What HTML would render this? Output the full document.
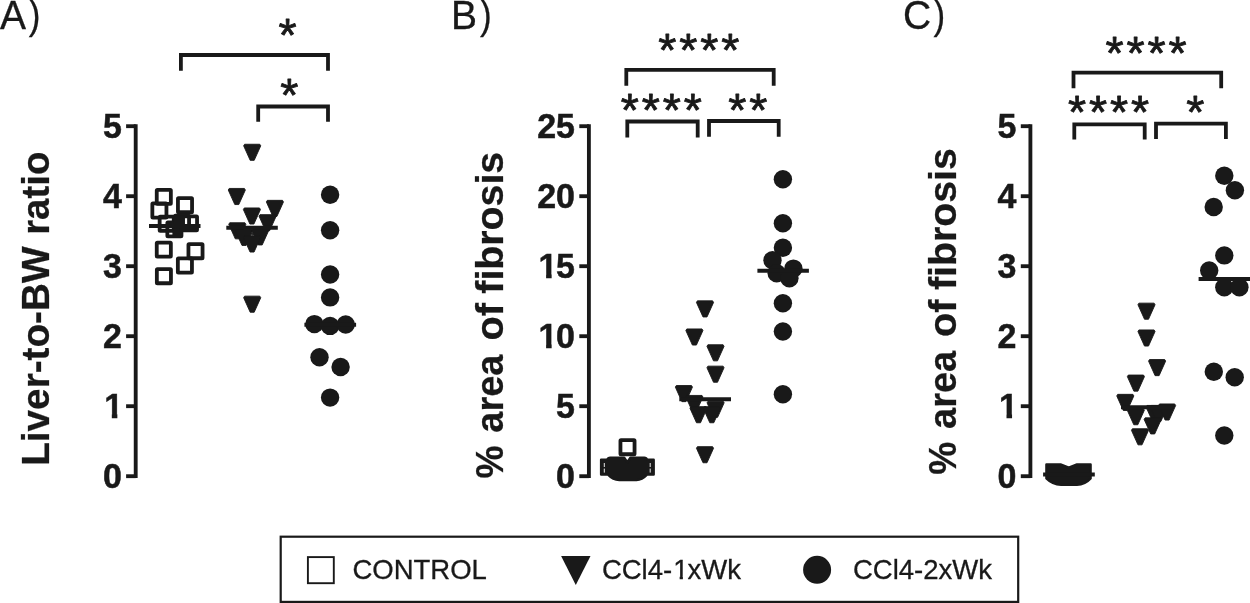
<!DOCTYPE html>
<html lang="en">
<head>
<meta charset="utf-8">
<title>Figure</title>
<style>
html,body{margin:0;padding:0;background:#fff;}
body{width:1250px;height:603px;overflow:hidden;}
svg{display:block;}
text{font-family:"Liberation Sans",sans-serif;fill:#191919;}
.pl{font-size:39px;stroke:#191919;stroke-width:0.3px;}
.tk{font-size:34px;font-weight:bold;stroke:#191919;stroke-width:0.5px;}
.yl{font-size:38.5px;font-weight:bold;stroke:#191919;stroke-width:0.25px;}
.st{font-size:46.5px;letter-spacing:2.9px;stroke:#191919;stroke-width:0.8px;stroke-linejoin:round;}
.lg{font-size:27.5px;stroke:#191919;stroke-width:0.3px;}
</style>
</head>
<body>
<svg width="1250" height="603" viewBox="0 0 1250 603">
<rect x="0" y="0" width="1250" height="603" fill="#ffffff"/>
<text transform="translate(0.00,28.9) scale(1,1.04)" class="pl">A<tspan x="28.80" textLength="11.69" lengthAdjust="spacingAndGlyphs">)</tspan></text>
<text transform="translate(451.00,28.9) scale(1,1.04)" class="pl">B<tspan x="29.00" textLength="11.69" lengthAdjust="spacingAndGlyphs">)</tspan></text>
<text transform="translate(903.00,28.9) scale(1,1.04)" class="pl">C<tspan x="30.40" textLength="11.69" lengthAdjust="spacingAndGlyphs">)</tspan></text>
<line x1="135.7" y1="124.28" x2="135.7" y2="478.12" stroke="#191919" stroke-width="3.85"/>
<line x1="126.10" y1="476.20" x2="135.70" y2="476.20" stroke="#191919" stroke-width="3.85"/>
<text transform="translate(121.80,488.10) scale(1,1.025)" text-anchor="end" class="tk">0</text>
<line x1="126.10" y1="406.20" x2="135.70" y2="406.20" stroke="#191919" stroke-width="3.85"/>
<text transform="translate(121.80,418.10) scale(1,1.025)" class="tk"><tspan x="-17.51">1</tspan></text>
<rect x="105.20" y="413.80" width="6.6" height="5.3" fill="#fff"/>
<rect x="117.35" y="413.80" width="6.4" height="5.3" fill="#fff"/>
<line x1="126.10" y1="336.20" x2="135.70" y2="336.20" stroke="#191919" stroke-width="3.85"/>
<text transform="translate(121.80,348.10) scale(1,1.025)" text-anchor="end" class="tk">2</text>
<line x1="126.10" y1="266.20" x2="135.70" y2="266.20" stroke="#191919" stroke-width="3.85"/>
<text transform="translate(121.80,278.10) scale(1,1.025)" text-anchor="end" class="tk">3</text>
<line x1="126.10" y1="196.20" x2="135.70" y2="196.20" stroke="#191919" stroke-width="3.85"/>
<text transform="translate(121.80,208.10) scale(1,1.025)" text-anchor="end" class="tk">4</text>
<line x1="126.10" y1="126.20" x2="135.70" y2="126.20" stroke="#191919" stroke-width="3.85"/>
<text transform="translate(121.80,138.10) scale(1,1.025)" text-anchor="end" class="tk">5</text>
<text transform="translate(48.70,467.90) rotate(-90) scale(1,1.03)" class="yl"><tspan x="2.11" textLength="219.23" lengthAdjust="spacingAndGlyphs">Liver-to-BW</tspan><tspan> </tspan><tspan x="233.03" textLength="83.29" lengthAdjust="spacingAndGlyphs">ratio</tspan></text>
<polyline points="180.90,70.70 180.90,55.00 328.00,55.00 328.00,70.70" fill="none" stroke="#191919" stroke-width="3.8" stroke-linejoin="miter"/>
<polyline points="258.20,121.80 258.20,106.50 328.00,106.50 328.00,121.80" fill="none" stroke="#191919" stroke-width="3.8" stroke-linejoin="miter"/>
<text x="289.05" y="51.10" text-anchor="middle" class="st">*</text>
<text x="290.75" y="111.00" text-anchor="middle" class="st">*</text>
<rect x="156.75" y="189.85" width="14.10" height="14.10" rx="0.6" fill="none" stroke="#191919" stroke-width="3.8" stroke-linejoin="round"/>
<rect x="152.35" y="203.45" width="14.10" height="14.10" rx="0.6" fill="none" stroke="#191919" stroke-width="3.8" stroke-linejoin="round"/>
<rect x="177.95" y="198.15" width="14.10" height="14.10" rx="0.6" fill="none" stroke="#191919" stroke-width="3.8" stroke-linejoin="round"/>
<rect x="182.95" y="216.35" width="14.10" height="14.10" rx="0.6" fill="none" stroke="#191919" stroke-width="3.8" stroke-linejoin="round"/>
<rect x="159.65" y="216.65" width="14.10" height="14.10" rx="0.6" fill="none" stroke="#191919" stroke-width="3.8" stroke-linejoin="round"/>
<rect x="167.35" y="222.35" width="14.10" height="14.10" rx="0.6" fill="none" stroke="#191919" stroke-width="3.8" stroke-linejoin="round"/>
<rect x="174.95" y="215.75" width="14.10" height="14.10" rx="0.6" fill="none" stroke="#191919" stroke-width="3.8" stroke-linejoin="round"/>
<rect x="156.75" y="242.55" width="14.10" height="14.10" rx="0.6" fill="none" stroke="#191919" stroke-width="3.8" stroke-linejoin="round"/>
<rect x="188.45" y="244.15" width="14.10" height="14.10" rx="0.6" fill="none" stroke="#191919" stroke-width="3.8" stroke-linejoin="round"/>
<rect x="177.85" y="258.45" width="14.10" height="14.10" rx="0.6" fill="none" stroke="#191919" stroke-width="3.8" stroke-linejoin="round"/>
<rect x="156.85" y="269.15" width="14.10" height="14.10" rx="0.6" fill="none" stroke="#191919" stroke-width="3.8" stroke-linejoin="round"/>
<polygon points="173.5,218.5 176.5,215.2 184.8,215.2 184.8,224.2 173.5,224.2" fill="#191919"/>
<rect x="179.4" y="227" width="18" height="4.6" fill="#191919"/>
<rect x="172.4" y="230.8" width="9" height="4.4" fill="#191919"/>
<line x1="149.00" y1="226.00" x2="200.50" y2="226.00" stroke="#191919" stroke-width="3.9"/>
<polygon points="244.60,144.25 259.80,144.25 260.75,145.80 254.20,160.35 250.20,160.35 243.65,145.80" fill="#191919" stroke="#191919" stroke-width="0.9" stroke-linejoin="round"/>
<polygon points="229.20,188.45 244.40,188.45 245.35,190.00 238.80,204.55 234.80,204.55 228.25,190.00" fill="#191919" stroke="#191919" stroke-width="0.9" stroke-linejoin="round"/>
<polygon points="267.30,200.35 282.50,200.35 283.45,201.90 276.90,216.45 272.90,216.45 266.35,201.90" fill="#191919" stroke="#191919" stroke-width="0.9" stroke-linejoin="round"/>
<polygon points="244.30,207.95 259.50,207.95 260.45,209.50 253.90,224.05 249.90,224.05 243.35,209.50" fill="#191919" stroke="#191919" stroke-width="0.9" stroke-linejoin="round"/>
<polygon points="260.00,214.65 275.20,214.65 276.15,216.20 269.60,230.75 265.60,230.75 259.05,216.20" fill="#191919" stroke="#191919" stroke-width="0.9" stroke-linejoin="round"/>
<polygon points="229.70,222.75 244.90,222.75 245.85,224.30 239.30,238.85 235.30,238.85 228.75,224.30" fill="#191919" stroke="#191919" stroke-width="0.9" stroke-linejoin="round"/>
<polygon points="236.40,229.35 251.60,229.35 252.55,230.90 246.00,245.45 242.00,245.45 235.45,230.90" fill="#191919" stroke="#191919" stroke-width="0.9" stroke-linejoin="round"/>
<polygon points="252.60,228.85 267.80,228.85 268.75,230.40 262.20,244.95 258.20,244.95 251.65,230.40" fill="#191919" stroke="#191919" stroke-width="0.9" stroke-linejoin="round"/>
<polygon points="244.45,235.95 259.65,235.95 260.60,237.50 254.05,252.05 250.05,252.05 243.50,237.50" fill="#191919" stroke="#191919" stroke-width="0.9" stroke-linejoin="round"/>
<polygon points="244.60,296.15 259.80,296.15 260.75,297.70 254.20,312.25 250.20,312.25 243.65,297.70" fill="#191919" stroke="#191919" stroke-width="0.9" stroke-linejoin="round"/>
<line x1="226.30" y1="227.80" x2="277.80" y2="227.80" stroke="#191919" stroke-width="3.9"/>
<rect x="251.2" y="233.0" width="2.2" height="2.8" fill="#191919" opacity="0.9"/>
<circle cx="330.10" cy="194.80" r="9.2" fill="#191919"/>
<circle cx="330.10" cy="230.30" r="9.2" fill="#191919"/>
<circle cx="330.10" cy="274.50" r="9.2" fill="#191919"/>
<circle cx="330.10" cy="297.40" r="9.2" fill="#191919"/>
<circle cx="314.40" cy="324.10" r="9.2" fill="#191919"/>
<circle cx="330.10" cy="325.90" r="9.2" fill="#191919"/>
<circle cx="345.70" cy="324.50" r="9.2" fill="#191919"/>
<circle cx="319.50" cy="357.30" r="9.2" fill="#191919"/>
<circle cx="340.60" cy="367.00" r="9.2" fill="#191919"/>
<circle cx="330.10" cy="397.60" r="9.2" fill="#191919"/>
<line x1="304.40" y1="324.80" x2="356.10" y2="324.80" stroke="#191919" stroke-width="3.9"/>
<line x1="588.9" y1="124.28" x2="588.9" y2="478.12" stroke="#191919" stroke-width="3.85"/>
<line x1="579.30" y1="476.20" x2="588.90" y2="476.20" stroke="#191919" stroke-width="3.85"/>
<text transform="translate(575.00,488.10) scale(1,1.025)" text-anchor="end" class="tk">0</text>
<line x1="579.30" y1="406.20" x2="588.90" y2="406.20" stroke="#191919" stroke-width="3.85"/>
<text transform="translate(575.00,418.10) scale(1,1.025)" text-anchor="end" class="tk">5</text>
<line x1="579.30" y1="336.20" x2="588.90" y2="336.20" stroke="#191919" stroke-width="3.85"/>
<text transform="translate(575.00,348.10) scale(1,1.025)" class="tk"><tspan x="-36.41">1</tspan><tspan x="-18.91">0</tspan></text>
<rect x="539.50" y="343.80" width="6.6" height="5.3" fill="#fff"/>
<rect x="551.65" y="343.80" width="6.4" height="5.3" fill="#fff"/>
<line x1="579.30" y1="266.20" x2="588.90" y2="266.20" stroke="#191919" stroke-width="3.85"/>
<text transform="translate(575.00,278.10) scale(1,1.025)" class="tk"><tspan x="-36.41">1</tspan><tspan x="-18.91">5</tspan></text>
<rect x="539.50" y="273.80" width="6.6" height="5.3" fill="#fff"/>
<rect x="551.65" y="273.80" width="6.4" height="5.3" fill="#fff"/>
<line x1="579.30" y1="196.20" x2="588.90" y2="196.20" stroke="#191919" stroke-width="3.85"/>
<text transform="translate(575.00,208.10) scale(1,1.025)" text-anchor="end" class="tk">20</text>
<line x1="579.30" y1="126.20" x2="588.90" y2="126.20" stroke="#191919" stroke-width="3.85"/>
<text transform="translate(575.00,138.10) scale(1,1.025)" text-anchor="end" class="tk">25</text>
<text transform="translate(502.70,482.70) rotate(-90) scale(1,1.0)" class="yl"><tspan x="4.16" textLength="33.00" lengthAdjust="spacingAndGlyphs">%</tspan><tspan> </tspan><tspan x="50.04" textLength="78.06" lengthAdjust="spacingAndGlyphs">area</tspan><tspan> </tspan><tspan x="142.09" textLength="37.53" lengthAdjust="spacingAndGlyphs">of</tspan><tspan> </tspan><tspan x="189.00" textLength="141.87" lengthAdjust="spacingAndGlyphs">fibrosis</tspan></text>
<polyline points="626.30,85.70 626.30,69.80 773.70,69.80 773.70,85.70" fill="none" stroke="#191919" stroke-width="3.8" stroke-linejoin="miter"/>
<polyline points="627.30,137.50 627.30,121.50 697.70,121.50 697.70,137.50" fill="none" stroke="#191919" stroke-width="3.8" stroke-linejoin="miter"/>
<polyline points="709.00,136.80 709.00,121.00 778.70,121.00 778.70,136.80" fill="none" stroke="#191919" stroke-width="3.8" stroke-linejoin="miter"/>
<text x="700.35" y="65.70" text-anchor="middle" class="st">****</text>
<text x="662.65" y="125.60" text-anchor="middle" class="st">****</text>
<text x="749.35" y="125.60" text-anchor="middle" class="st">**</text>
<path d="M601.1,459.7 H607.3 Q608,457.7 610.2,457.7 H624.2 L627.3,462.2 L630.4,457.7 H644.3 Q646.4,457.7 647,459.7 H653.7 V474.5 H647.2 Q642,480.1 636.5,480.1 H619.2 Q613,480.1 607.8,474.5 H601.1 Z" fill="#191919" stroke="#191919" stroke-width="2.4" stroke-linejoin="round"/>
<line x1="604.3" y1="463" x2="604.3" y2="473" stroke="#fff" stroke-width="0.9" stroke-dasharray="4 1.6"/>
<line x1="650.2" y1="463" x2="650.2" y2="473" stroke="#fff" stroke-width="0.9" stroke-dasharray="4 1.6"/>
<rect x="620.45" y="440.15" width="14.10" height="14.10" rx="0.6" fill="none" stroke="#191919" stroke-width="3.8" stroke-linejoin="round"/>
<polygon points="697.40,300.85 712.60,300.85 713.55,302.40 707.00,316.95 703.00,316.95 696.45,302.40" fill="#191919" stroke="#191919" stroke-width="0.9" stroke-linejoin="round"/>
<polygon points="686.80,328.95 702.00,328.95 702.95,330.50 696.40,345.05 692.40,345.05 685.85,330.50" fill="#191919" stroke="#191919" stroke-width="0.9" stroke-linejoin="round"/>
<polygon points="707.90,344.75 723.10,344.75 724.05,346.30 717.50,360.85 713.50,360.85 706.95,346.30" fill="#191919" stroke="#191919" stroke-width="0.9" stroke-linejoin="round"/>
<polygon points="707.90,366.15 723.10,366.15 724.05,367.70 717.50,382.25 713.50,382.25 706.95,367.70" fill="#191919" stroke="#191919" stroke-width="0.9" stroke-linejoin="round"/>
<polygon points="676.30,385.55 691.50,385.55 692.45,387.10 685.90,401.65 681.90,401.65 675.35,387.10" fill="#191919" stroke="#191919" stroke-width="0.9" stroke-linejoin="round"/>
<polygon points="686.80,395.45 702.00,395.45 702.95,397.00 696.40,411.55 692.40,411.55 685.85,397.00" fill="#191919" stroke="#191919" stroke-width="0.9" stroke-linejoin="round"/>
<polygon points="708.00,401.25 723.20,401.25 724.15,402.80 717.60,417.35 713.60,417.35 707.05,402.80" fill="#191919" stroke="#191919" stroke-width="0.9" stroke-linejoin="round"/>
<polygon points="690.90,406.65 706.10,406.65 707.05,408.20 700.50,422.75 696.50,422.75 689.95,408.20" fill="#191919" stroke="#191919" stroke-width="0.9" stroke-linejoin="round"/>
<polygon points="704.20,406.65 719.40,406.65 720.35,408.20 713.80,422.75 709.80,422.75 703.25,408.20" fill="#191919" stroke="#191919" stroke-width="0.9" stroke-linejoin="round"/>
<polygon points="697.40,446.65 712.60,446.65 713.55,448.20 707.00,462.75 703.00,462.75 696.45,448.20" fill="#191919" stroke="#191919" stroke-width="0.9" stroke-linejoin="round"/>
<line x1="679.30" y1="399.20" x2="731.00" y2="399.20" stroke="#191919" stroke-width="3.9"/>
<circle cx="782.90" cy="179.30" r="9.2" fill="#191919"/>
<circle cx="782.90" cy="223.30" r="9.2" fill="#191919"/>
<circle cx="782.90" cy="247.70" r="9.2" fill="#191919"/>
<circle cx="772.50" cy="260.20" r="9.2" fill="#191919"/>
<circle cx="793.40" cy="268.60" r="9.2" fill="#191919"/>
<circle cx="776.70" cy="273.20" r="9.2" fill="#191919"/>
<circle cx="789.40" cy="278.30" r="9.2" fill="#191919"/>
<circle cx="782.90" cy="303.20" r="9.2" fill="#191919"/>
<circle cx="782.90" cy="331.50" r="9.2" fill="#191919"/>
<circle cx="782.90" cy="394.20" r="9.2" fill="#191919"/>
<line x1="757.40" y1="270.70" x2="808.90" y2="270.70" stroke="#191919" stroke-width="3.9"/>
<line x1="1030.4" y1="124.28" x2="1030.4" y2="478.12" stroke="#191919" stroke-width="3.85"/>
<line x1="1020.80" y1="476.20" x2="1030.40" y2="476.20" stroke="#191919" stroke-width="3.85"/>
<text transform="translate(1016.50,488.10) scale(1,1.025)" text-anchor="end" class="tk">0</text>
<line x1="1020.80" y1="406.20" x2="1030.40" y2="406.20" stroke="#191919" stroke-width="3.85"/>
<text transform="translate(1016.50,418.10) scale(1,1.025)" class="tk"><tspan x="-17.51">1</tspan></text>
<rect x="999.90" y="413.80" width="6.6" height="5.3" fill="#fff"/>
<rect x="1012.05" y="413.80" width="6.4" height="5.3" fill="#fff"/>
<line x1="1020.80" y1="336.20" x2="1030.40" y2="336.20" stroke="#191919" stroke-width="3.85"/>
<text transform="translate(1016.50,348.10) scale(1,1.025)" text-anchor="end" class="tk">2</text>
<line x1="1020.80" y1="266.20" x2="1030.40" y2="266.20" stroke="#191919" stroke-width="3.85"/>
<text transform="translate(1016.50,278.10) scale(1,1.025)" text-anchor="end" class="tk">3</text>
<line x1="1020.80" y1="196.20" x2="1030.40" y2="196.20" stroke="#191919" stroke-width="3.85"/>
<text transform="translate(1016.50,208.10) scale(1,1.025)" text-anchor="end" class="tk">4</text>
<line x1="1020.80" y1="126.20" x2="1030.40" y2="126.20" stroke="#191919" stroke-width="3.85"/>
<text transform="translate(1016.50,138.10) scale(1,1.025)" text-anchor="end" class="tk">5</text>
<text transform="translate(955.80,479.00) rotate(-90) scale(1,1.0)" class="yl"><tspan x="4.16" textLength="33.00" lengthAdjust="spacingAndGlyphs">%</tspan><tspan> </tspan><tspan x="50.04" textLength="78.06" lengthAdjust="spacingAndGlyphs">area</tspan><tspan> </tspan><tspan x="142.09" textLength="37.53" lengthAdjust="spacingAndGlyphs">of</tspan><tspan> </tspan><tspan x="189.00" textLength="141.87" lengthAdjust="spacingAndGlyphs">fibrosis</tspan></text>
<polyline points="1073.50,88.30 1073.50,72.60 1221.20,72.60 1221.20,88.30" fill="none" stroke="#191919" stroke-width="3.8" stroke-linejoin="miter"/>
<polyline points="1074.30,139.60 1074.30,124.30 1144.70,124.30 1144.70,139.60" fill="none" stroke="#191919" stroke-width="3.8" stroke-linejoin="miter"/>
<polyline points="1156.00,139.00 1156.00,123.70 1225.90,123.70 1225.90,139.00" fill="none" stroke="#191919" stroke-width="3.8" stroke-linejoin="miter"/>
<text x="1147.55" y="68.90" text-anchor="middle" class="st">****</text>
<text x="1110.05" y="128.20" text-anchor="middle" class="st">****</text>
<text x="1196.85" y="128.20" text-anchor="middle" class="st">*</text>
<path d="M1046.4,464.4 H1060.5 L1068.8,467.6 L1077,464.4 H1090.6 V478.5 Q1085,484.7 1077,484.7 H1061 Q1052.5,484.7 1046.4,478.5 Z" fill="#191919" stroke="#191919" stroke-width="2.4" stroke-linejoin="round"/>
<line x1="1043.10" y1="474.60" x2="1094.80" y2="474.60" stroke="#191919" stroke-width="4.0"/>
<polygon points="1138.90,303.15 1154.10,303.15 1155.05,304.70 1148.50,319.25 1144.50,319.25 1137.95,304.70" fill="#191919" stroke="#191919" stroke-width="0.9" stroke-linejoin="round"/>
<polygon points="1138.90,329.95 1154.10,329.95 1155.05,331.50 1148.50,346.05 1144.50,346.05 1137.95,331.50" fill="#191919" stroke="#191919" stroke-width="0.9" stroke-linejoin="round"/>
<polygon points="1149.50,359.55 1164.70,359.55 1165.65,361.10 1159.10,375.65 1155.10,375.65 1148.55,361.10" fill="#191919" stroke="#191919" stroke-width="0.9" stroke-linejoin="round"/>
<polygon points="1128.30,375.05 1143.50,375.05 1144.45,376.60 1137.90,391.15 1133.90,391.15 1127.35,376.60" fill="#191919" stroke="#191919" stroke-width="0.9" stroke-linejoin="round"/>
<polygon points="1117.70,394.35 1132.90,394.35 1133.85,395.90 1127.30,410.45 1123.30,410.45 1116.75,395.90" fill="#191919" stroke="#191919" stroke-width="0.9" stroke-linejoin="round"/>
<polygon points="1128.20,408.65 1143.40,408.65 1144.35,410.20 1137.80,424.75 1133.80,424.75 1127.25,410.20" fill="#191919" stroke="#191919" stroke-width="0.9" stroke-linejoin="round"/>
<polygon points="1147.00,405.45 1162.20,405.45 1163.15,407.00 1156.60,421.55 1152.60,421.55 1146.05,407.00" fill="#191919" stroke="#191919" stroke-width="0.9" stroke-linejoin="round"/>
<polygon points="1151.20,405.45 1166.40,405.45 1167.35,407.00 1160.80,421.55 1156.80,421.55 1150.25,407.00" fill="#191919" stroke="#191919" stroke-width="0.9" stroke-linejoin="round"/>
<polygon points="1159.50,403.95 1174.70,403.95 1175.65,405.50 1169.10,420.05 1165.10,420.05 1158.55,405.50" fill="#191919" stroke="#191919" stroke-width="0.9" stroke-linejoin="round"/>
<polygon points="1145.10,417.85 1160.30,417.85 1161.25,419.40 1154.70,433.95 1150.70,433.95 1144.15,419.40" fill="#191919" stroke="#191919" stroke-width="0.9" stroke-linejoin="round"/>
<polygon points="1132.40,428.75 1147.60,428.75 1148.55,430.30 1142.00,444.85 1138.00,444.85 1131.45,430.30" fill="#191919" stroke="#191919" stroke-width="0.9" stroke-linejoin="round"/>
<line x1="1121.00" y1="407.30" x2="1172.60" y2="407.30" stroke="#191919" stroke-width="3.9"/>
<circle cx="1224.30" cy="175.70" r="9.2" fill="#191919"/>
<circle cx="1234.90" cy="190.30" r="9.2" fill="#191919"/>
<circle cx="1213.70" cy="207.00" r="9.2" fill="#191919"/>
<circle cx="1224.30" cy="255.40" r="9.2" fill="#191919"/>
<circle cx="1209.20" cy="270.50" r="9.2" fill="#191919"/>
<circle cx="1224.30" cy="287.20" r="9.2" fill="#191919"/>
<circle cx="1239.40" cy="287.20" r="9.2" fill="#191919"/>
<circle cx="1213.80" cy="371.80" r="9.2" fill="#191919"/>
<circle cx="1234.70" cy="377.20" r="9.2" fill="#191919"/>
<circle cx="1224.30" cy="435.50" r="9.2" fill="#191919"/>
<line x1="1198.60" y1="279.00" x2="1252.00" y2="279.00" stroke="#191919" stroke-width="3.9"/>
<rect x="280.7" y="536.7" width="737.5" height="65.2" fill="none" stroke="#191919" stroke-width="2.2"/>
<rect x="307.9" y="557.1" width="25.9" height="26.1" fill="#fff" stroke="#191919" stroke-width="1.9"/>
<text transform="translate(352.4,579.0) scale(1,1.03)" class="lg">CONTROL</text>
<polygon points="561.1,556 590.5,556 575.8,584.9" fill="#191919"/>
<text transform="translate(601.9,579.0) scale(1,1.03)" class="lg"><tspan x="0">CCl4-</tspan><tspan x="71.25">1</tspan><tspan x="85.54">xWk</tspan></text>
<rect x="674.2" y="575.9" width="5.45" height="4.4" fill="#fff"/>
<rect x="682.9" y="575.9" width="5.0" height="4.4" fill="#fff"/>
<circle cx="817.1" cy="569.8" r="14.0" fill="#191919"/>
<text transform="translate(853.0,579.0) scale(1,1.03)" class="lg">CCl4-2xWk</text>
</svg>
</body>
</html>
